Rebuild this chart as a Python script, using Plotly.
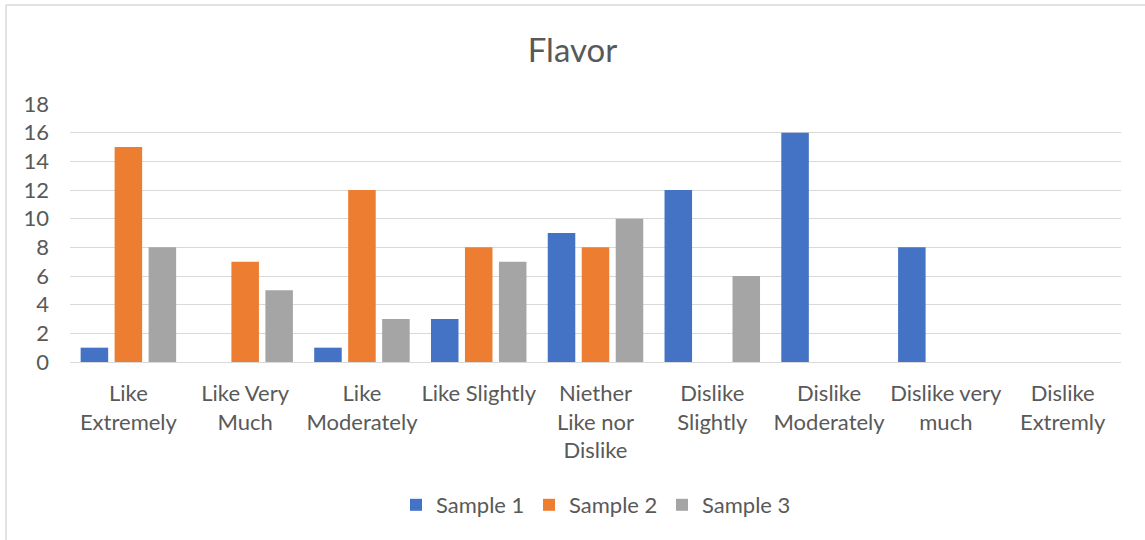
import plotly.graph_objects as go

categories = [
    "Like<br>Extremely", "Like Very<br>Much", "Like<br>Moderately", "Like Slightly",
    "Niether<br>Like nor<br>Dislike", "Dislike<br>Slightly", "Dislike<br>Moderately",
    "Dislike very<br>much", "Dislike<br>Extremly",
]
sample1 = [1, 0, 1, 3, 9, 12, 16, 8, 0]
sample2 = [15, 7, 12, 8, 8, 0, 0, 0, 0]
sample3 = [8, 5, 3, 7, 10, 6, 0, 0, 0]
series_names = ["Sample 1", "Sample 2", "Sample 3"]
series_colors = ["#4472C4", "#ED7D31", "#A5A5A5"]
y_ticks = list(range(0, 19, 2))

W, H = 1145, 540
L, R, T, B = 70, 24, 104, 178
pw, ph = W - L - R, H - T - B

text_color = "#595959"
font_family = "Lato, 'Open Sans', sans-serif"
fs = 22

fig = go.Figure()
for name, vals, col in zip(series_names, [sample1, sample2, sample3], series_colors):
    fig.add_trace(go.Bar(x=categories, y=vals, name=name, marker_color=col,
                         marker_line_width=0))

def px_x(x):
    return (x - L) / pw

def px_y(y):
    return (H - B - y) / ph

fig.update_layout(
    width=W, height=H,
    margin=dict(l=L, r=R, t=T, b=B),
    paper_bgcolor="white", plot_bgcolor="white",
    font=dict(family=font_family, color=text_color, size=fs),
    barmode="group", bargap=0.127, bargroupgap=0.19,
    title=dict(text="Flavor", x=0.5, xanchor="center", y=1 - 50 / H, yanchor="middle",
               font=dict(size=33, color=text_color)),
    xaxis=dict(showgrid=False, showline=False, ticks="", ticklabelstandoff=16,
               tickfont=dict(size=fs, color=text_color)),
    yaxis=dict(range=[0, 18], tickvals=y_ticks, showgrid=True, gridcolor="#D9D9D9",
               gridwidth=1, zeroline=True, zerolinecolor="#D9D9D9", zerolinewidth=1,
               showline=False, ticks="", ticklabelstandoff=20,
               tickfont=dict(size=fs, color=text_color)),
    legend=dict(orientation="h", x=0.5, xanchor="center", y=px_y(505), yanchor="middle",
                font=dict(size=fs, color=text_color), entrywidth=88, entrywidthmode="pixels",
                itemwidth=30, traceorder="normal"),
    showlegend=True,
    shapes=[
        dict(type="line", xref="paper", yref="paper", x0=px_x(6), x1=px_x(6),
             y0=px_y(5), y1=px_y(545), line=dict(color="#D9D9D9", width=1.5)),
        dict(type="line", xref="paper", yref="paper", x0=px_x(6), x1=px_x(1150),
             y0=px_y(5), y1=px_y(5), line=dict(color="#D9D9D9", width=1.5)),
    ],
)

fig.write_html("out.html")
